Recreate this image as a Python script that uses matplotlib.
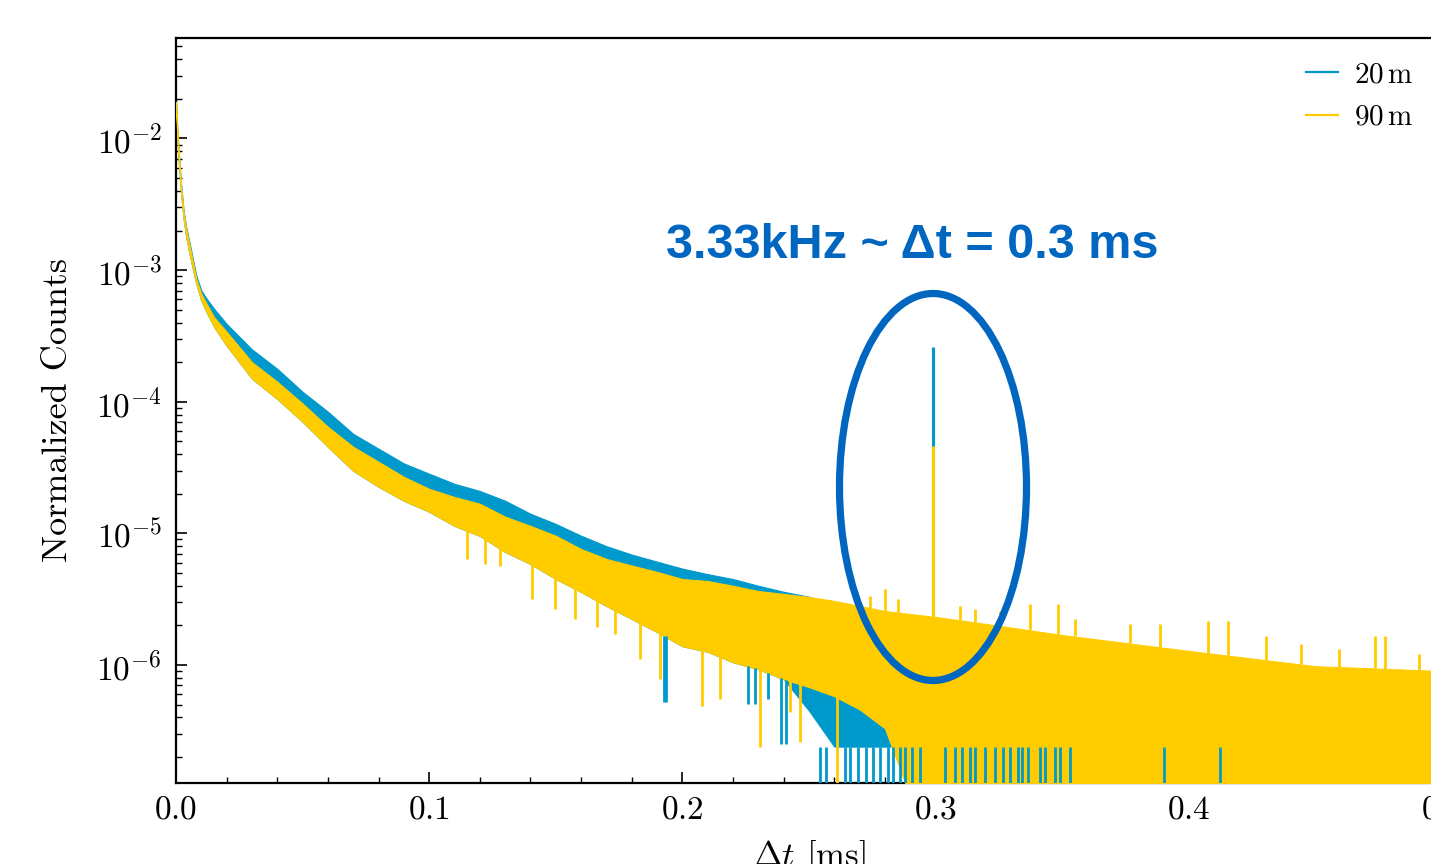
import numpy as np
import matplotlib
matplotlib.use("Agg")
import matplotlib.pyplot as plt
from matplotlib.lines import Line2D
from matplotlib.patches import Ellipse
from matplotlib.ticker import MultipleLocator, LogLocator, NullFormatter

plt.rcParams['font.family'] = 'serif'
plt.rcParams['font.serif'] = ['cmr10', 'DejaVu Serif']
plt.rcParams['mathtext.fontset'] = 'cm'
plt.rcParams['axes.unicode_minus'] = False
plt.rcParams['axes.formatter.use_mathtext'] = True

# time difference between events [ms] (knots)
dt = [0.000, 0.0005, 0.001, 0.002, 0.003, 0.004, 0.006, 0.008, 0.010, 0.012,
      0.015, 0.020, 0.030, 0.040, 0.050, 0.060, 0.070, 0.080, 0.090, 0.100,
      0.110, 0.120, 0.130, 0.140, 0.150, 0.160, 0.170, 0.180, 0.190, 0.200,
      0.210, 0.220, 0.230, 0.240, 0.250, 0.260, 0.270, 0.280, 0.290, 0.300,
      0.320, 0.350, 0.400, 0.450, 0.500]

# 20 m: upper / lower edge of the noisy band
m20_hi = [1.9e-2, 1.2e-2, 8.4e-3, 4.55e-3, 2.84e-3, 2.14e-3, 1.41e-3, 9.1e-4, 7.0e-4, 6.1e-4,
          5.1e-4, 3.9e-4, 2.5e-4, 1.78e-4, 1.19e-4, 8.4e-5, 5.7e-5, 4.4e-5, 3.4e-5, 2.84e-5,
          2.38e-5, 2.1e-5, 1.77e-5, 1.41e-5, 1.18e-5, 9.6e-6, 8.0e-6, 6.9e-6, 6.1e-6, 5.4e-6,
          4.9e-6, 4.5e-6, 4.0e-6, 3.6e-6, 3.3e-6, 2.9e-6, 2.44e-6, 1.88e-6, 1.32e-6, 9.3e-7,
          6.6e-7, 4.6e-7, 3.9e-7, 3.3e-7, 3.3e-7]
m20_lo = [1.69e-2, 1.05e-2, 7.05e-3, 3.82e-3, 2.45e-3, 1.80e-3, 1.16e-3, 7.9e-4, 5.86e-4, 4.83e-4,
          3.72e-4, 2.67e-4, 1.50e-4, 1.05e-4, 7.05e-5, 4.55e-5, 2.99e-5, 2.26e-5, 1.77e-5, 1.46e-5,
          1.14e-5, 9.57e-6, 7.23e-6, 5.86e-6, 4.51e-6, 3.59e-6, 2.81e-6, 2.24e-6, 1.78e-6, 1.39e-6,
          1.26e-6, 1.05e-6, 9.3e-7, 7.8e-7, 4.5e-7, 2.4e-7, 2.4e-7, 2.4e-7, 2.4e-7, 2.4e-7,
          2.4e-7, 2.4e-7, 2.4e-7, 2.4e-7, 2.4e-7]

# 90 m: upper / lower edge of the noisy band
m90_hi = [1.9e-2, 1.2e-2, 8.4e-3, 4.4e-3, 2.75e-3, 2.07e-3, 1.34e-3, 8.6e-4, 6.6e-4, 5.6e-4,
          4.4e-4, 3.4e-4, 2.0e-4, 1.42e-4, 9.7e-5, 6.45e-5, 4.55e-5, 3.5e-5, 2.69e-5, 2.18e-5,
          1.89e-5, 1.68e-5, 1.34e-5, 1.14e-5, 9.6e-6, 7.6e-6, 6.4e-6, 5.7e-6, 5.1e-6, 4.5e-6,
          4.35e-6, 4.0e-6, 3.65e-6, 3.47e-6, 3.29e-6, 3.07e-6, 2.81e-6, 2.57e-6, 2.44e-6, 2.32e-6,
          2.05e-6, 1.69e-6, 1.28e-6, 9.8e-7, 9.0e-7]
m90_lo = [1.69e-2, 1.05e-2, 7.05e-3, 3.82e-3, 2.45e-3, 1.80e-3, 1.16e-3, 7.9e-4, 5.86e-4, 4.83e-4,
          3.72e-4, 2.67e-4, 1.50e-4, 1.05e-4, 7.05e-5, 4.55e-5, 2.99e-5, 2.26e-5, 1.77e-5, 1.46e-5,
          1.14e-5, 9.57e-6, 7.23e-6, 5.86e-6, 4.51e-6, 3.59e-6, 2.81e-6, 2.24e-6, 1.78e-6, 1.39e-6,
          1.26e-6, 1.05e-6, 9.3e-7, 7.8e-7, 6.8e-7, 5.8e-7, 4.6e-7, 3.3e-7, 1e-7, 1e-7,
          1e-7, 1e-7, 1e-7, 1e-7, 1e-7]

# single bins that stick out of the bands
m90_dip_x = [0.1149, 0.1220, 0.1279, 0.1405, 0.1496, 0.1575, 0.1662, 0.1733, 0.1832, 0.1911,
             0.2077, 0.2148, 0.2306, 0.2424, 0.2463, 0.2610]
m90_dip_y = [6.4e-6, 5.86e-6, 5.66e-6, 3.18e-6, 2.67e-6, 2.24e-6, 1.95e-6, 1.72e-6, 1.11e-6, 7.8e-7,
             4.9e-7, 5.5e-7, 2.4e-7, 4.4e-7, 2.6e-7, 1e-7]
m90_top_x = [0.2740, 0.2799, 0.2850, 0.3095, 0.3154, 0.3253, 0.3372, 0.3482, 0.3549, 0.3766,
             0.3885, 0.4074, 0.4153, 0.4303, 0.4445, 0.4595, 0.4734, 0.4773, 0.4911]
m90_top_y = [3.35e-6, 3.78e-6, 3.18e-6, 2.81e-6, 2.67e-6, 2.57e-6, 2.91e-6, 2.91e-6, 2.24e-6, 2.05e-6,
             2.05e-6, 2.16e-6, 2.16e-6, 1.66e-6, 1.44e-6, 1.32e-6, 1.66e-6, 1.66e-6, 1.21e-6]
m20_dip_x = [0.1927, 0.1934, 0.2258, 0.2286, 0.2337, 0.2388, 0.2408]
m20_dip_y = [5.2e-7, 5.2e-7, 5.05e-7, 5.05e-7, 5.5e-7, 2.5e-7, 2.5e-7]
m20_zero_x = [0.2542, 0.2566, 0.2641, 0.2661, 0.2692, 0.2724, 0.2752, 0.2779, 0.2811, 0.2831,
              0.2858, 0.2878, 0.2906, 0.2937, 0.3036, 0.3075, 0.3103, 0.3135, 0.3154, 0.3194,
              0.3233, 0.3265, 0.3293, 0.3324, 0.3340, 0.3364, 0.3411, 0.3431, 0.3470, 0.3490,
              0.3529, 0.3904, 0.4122]
m20_zero_top = 2.4e-7

# the 3.33 kHz line
peak_x = 0.2990
peak_20 = 2.62e-4
peak_90 = 4.62e-5

c20 = '#0099CC'
c90 = '#FFCC00'
cmark = '#0066BF'
floor = 1e-7

fig = plt.figure(figsize=(14.31, 8.64), dpi=100)
ax = fig.add_axes([176 / 1431, 1 - 783 / 864, (1442 - 176) / 1431, (783 - 38) / 864])

ax.fill_between(dt, m20_lo, m20_hi, color=c20, lw=0.8, zorder=2)
ax.vlines(peak_x, np.interp(peak_x, dt, m20_hi), peak_20, color=c20, lw=2.2, zorder=2)
ax.fill_between(dt, m90_lo, m90_hi, color=c90, lw=0.8, zorder=3)
ax.vlines(m90_dip_x, m90_dip_y, np.interp(m90_dip_x, dt, m90_lo), color=c90, lw=2, zorder=3)
ax.vlines(m90_top_x, np.interp(m90_top_x, dt, m90_hi), m90_top_y, color=c90, lw=2, zorder=3)
ax.vlines(peak_x, np.interp(peak_x, dt, m90_hi), peak_90, color=c90, lw=2.2, zorder=3)
ax.vlines(m20_dip_x, m20_dip_y, np.interp(m20_dip_x, dt, m90_lo), color=c20, lw=2, zorder=4)
ax.vlines(m20_zero_x, floor, m20_zero_top, color=c20, lw=2, zorder=4)

ax.set_yscale('log')
ax.set_xlim(0, 0.5)
ax.set_ylim(1.27e-7, 5.8e-2)
ax.xaxis.set_major_locator(MultipleLocator(0.1))
ax.xaxis.set_minor_locator(MultipleLocator(0.02))
ax.yaxis.set_major_locator(LogLocator(base=10, numticks=20))
ax.yaxis.set_minor_locator(LogLocator(base=10, subs=np.arange(2, 10), numticks=20))
ax.yaxis.set_minor_formatter(NullFormatter())
ax.tick_params(which='both', direction='in', top=False, right=False, labelsize=24)
ax.tick_params(which='major', length=8, width=1.2)
ax.tick_params(which='minor', length=4.5, width=1)
ax.tick_params(axis='y', pad=10)
ax.tick_params(axis='x', pad=9)
for s in ax.spines.values():
    s.set_linewidth(1.6)

ax.set_ylabel('Normalized Counts', fontsize=26, labelpad=16)
ax.set_xlabel(r'$\Delta t$ [ms]', fontsize=25, labelpad=10)

handles = [Line2D([], [], color=c20, lw=1.6), Line2D([], [], color=c90, lw=1.6)]
fig.legend(handles, [r'$20\,\mathrm{m}$', r'$90\,\mathrm{m}$'], loc='upper left',
           bbox_to_anchor=(1306 / 1431, 1 - 62 / 864), frameon=False, fontsize=21,
           handlelength=1.1, handletextpad=0.55, labelspacing=0.55, borderpad=0, borderaxespad=0)

fig.text(912 / 1431, 1 - 245 / 864, '3.33kHz ~ Δt = 0.3 ms', color=cmark, fontsize=35,
         fontweight='bold', family=['Liberation Sans', 'DejaVu Sans'], ha='center', va='center')
fig.add_artist(Ellipse((933 / 1431, 1 - 487 / 864), 187 / 1431, 387 / 864,
                       transform=fig.transFigure, fill=False, ec=cmark, lw=5.2))

fig.savefig('out.png', dpi=100)
